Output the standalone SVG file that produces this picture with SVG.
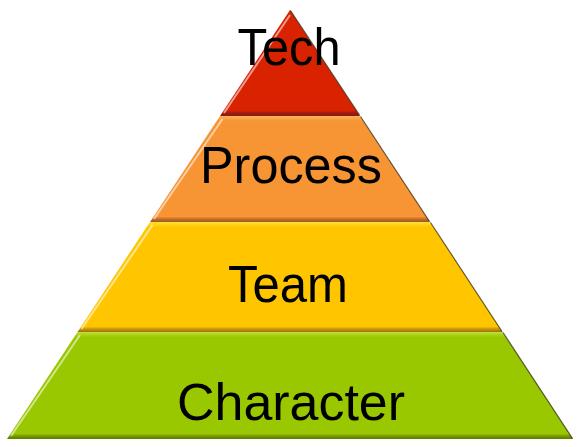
<svg xmlns="http://www.w3.org/2000/svg" width="583" height="447" viewBox="0 0 583 447">
  <defs>
    <linearGradient id="gRed" x1="0" y1="0" x2="0" y2="1">
      <stop offset="0" stop-color="#D82200"/>
      <stop offset="0.95" stop-color="#D82200"/>
      <stop offset="0.97" stop-color="#A81A0A"/>
      <stop offset="1" stop-color="#7A2010"/>
    </linearGradient>
    <linearGradient id="gOrange" x1="0" y1="0" x2="0" y2="1">
      <stop offset="0" stop-color="#FFB060"/>
      <stop offset="0.03" stop-color="#F7A040"/>
      <stop offset="0.05" stop-color="#F79433"/>
      <stop offset="0.95" stop-color="#F79433"/>
      <stop offset="0.97" stop-color="#C87028"/>
      <stop offset="1" stop-color="#9A5A20"/>
    </linearGradient>
    <linearGradient id="gYellow" x1="0" y1="0" x2="0" y2="1">
      <stop offset="0" stop-color="#FFE040"/>
      <stop offset="0.03" stop-color="#FFD010"/>
      <stop offset="0.05" stop-color="#FFC600"/>
      <stop offset="0.95" stop-color="#FFC600"/>
      <stop offset="0.97" stop-color="#D09A08"/>
      <stop offset="1" stop-color="#A07010"/>
    </linearGradient>
    <linearGradient id="gGreen" x1="0" y1="0" x2="0" y2="1">
      <stop offset="0" stop-color="#BEE040"/>
      <stop offset="0.03" stop-color="#A8D010"/>
      <stop offset="0.05" stop-color="#99C700"/>
      <stop offset="0.95" stop-color="#99C700"/>
      <stop offset="0.97" stop-color="#7A9E00"/>
      <stop offset="1" stop-color="#5A7A00"/>
    </linearGradient>
  </defs>
  <style>
    .label { font-family: "Liberation Sans", Arial, sans-serif; font-size: 52px; fill: #000; text-anchor: middle; }
    .hl { stroke: #FFFFFF; stroke-opacity: 0.55; stroke-width: 2; fill: none; }
    .sh { stroke: #202010; stroke-opacity: 0.7; stroke-width: 1.2; fill: none; }
  </style>
  <g id="tech">
    <polygon points="290,10 360,116 220,116" fill="url(#gRed)"/>
    <line class="hl" x1="290" y1="15" x2="224" y2="113"/>
    <line class="sh" x1="290.5" y1="10.5" x2="359.5" y2="115"/>
    <text class="label" x="289" y="65" textLength="103" lengthAdjust="spacingAndGlyphs">Tech</text>
  </g>
  <g id="process">
    <polygon points="220,116 360,116 430,222 150,222" fill="url(#gOrange)"/>
    <line class="hl" x1="222.5" y1="119" x2="154" y2="219"/>
    <line class="sh" x1="360.5" y1="116.5" x2="429.5" y2="221.5"/>
    <text class="label" x="291" y="183" textLength="182" lengthAdjust="spacingAndGlyphs">Process</text>
  </g>
  <g id="team">
    <polygon points="150,222 430,222 502.5,332 77.5,332" fill="url(#gYellow)"/>
    <line class="hl" x1="152.5" y1="225" x2="81.5" y2="329"/>
    <line class="sh" x1="430.5" y1="222.5" x2="502" y2="331.5"/>
    <text class="label" x="288" y="302" textLength="120" lengthAdjust="spacingAndGlyphs">Team</text>
  </g>
  <g id="character">
    <polygon points="77.5,332 502.5,332 573,439 7,439" fill="url(#gGreen)"/>
    <line class="hl" x1="80" y1="335" x2="11" y2="436"/>
    <line class="sh" x1="503" y1="332.5" x2="572.5" y2="438.5"/>
    <text class="label" x="291" y="420" textLength="228" lengthAdjust="spacingAndGlyphs">Character</text>
  </g>
</svg>
